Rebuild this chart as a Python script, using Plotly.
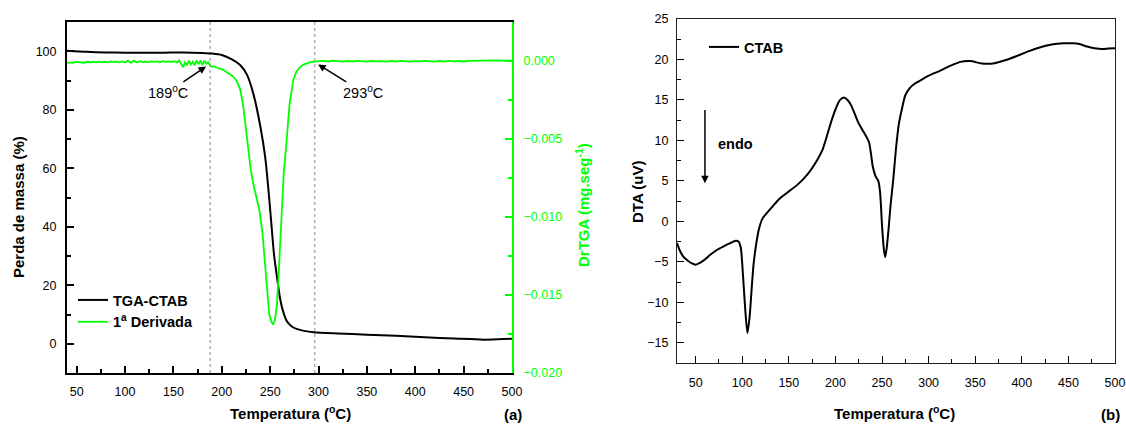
import plotly.graph_objects as go

# ---------------- data ----------------
# TGA (left axis, %)
tga_T = [40, 60, 80, 100, 120, 140, 160, 180, 190, 200, 210, 219, 226, 233, 240, 245,
         248, 251, 254, 257, 260, 263, 267, 272, 278, 285, 295, 320, 350, 380, 410,
         440, 470, 485, 500]
tga_v = [100.2, 99.8, 99.6, 99.5, 99.5, 99.5, 99.6, 99.4, 99.2, 98.7, 97.3, 95.3, 92.0,
         85.0, 74.0, 63.5, 53.5, 42.0, 30.5, 23.0, 16.0, 11.5, 7.9, 6.0, 5.0, 4.4, 3.9,
         3.5, 3.1, 2.7, 2.2, 1.8, 1.4, 1.5, 1.7]

# DrTGA (right axis, mg/s), values in units of 1e-4
dtg_T = [40, 43, 46, 49, 52, 55, 58, 61, 64, 67, 70, 73, 76, 79, 82, 85, 88, 91, 94, 97,
         100, 103, 106, 109, 112, 115, 118, 121, 124, 127, 130, 133, 136, 139, 142, 145,
         148, 151, 154, 156, 158, 160, 162, 164, 166, 168, 170, 172, 174, 176, 178, 180,
         182, 184, 186, 188, 190, 192, 196, 201, 206, 212, 216, 219, 222, 226, 230, 233,
         236, 239, 242, 245, 247, 249, 251, 253, 255, 257, 258.5, 260, 262, 264, 267, 270,
         274, 277, 280, 284, 288, 293, 298, 300, 305, 310, 315, 320, 325, 330, 335, 340,
         345, 350, 355, 360, 365, 370, 375, 380, 385, 390, 395, 400, 405, 410, 415, 420,
         425, 430, 435, 440, 445, 450, 455, 460, 465, 470, 475, 480, 485, 490, 495, 500]
dtg_e4 = [-1.0, -0.9, -1.2, -0.6, -0.8, -0.7, -1.1, -0.5, -0.8, -0.6, -0.9, -0.4, -0.7,
          -0.5, -0.9, -0.3, -0.6, -0.4, -0.8, -0.3, -0.9, 0.3, -1.2, 0.2, -0.8, -0.2, -0.6,
          -0.4, -0.7, -0.2, -0.6, -0.3, -0.8, -0.1, -0.6, -0.2, -0.7, -0.1, -0.9, 0.3, -2.0,
          -4.0, -1.0, -2.5, 0.2, -2.2, -0.5, -2.8, 0.4, -2.0, 0.3, -2.6, 0.2, -1.6, -0.8,
          -3.0, -3.7, -3.5, -4.5, -5.5, -7.5, -10.0, -13.5, -18.0, -28.0, -50.0, -70.0,
          -80.0, -88.0, -96.0, -110.0, -135.0, -151.0, -162.0, -167.0, -169.0, -166.0,
          -156.0, -140.0, -122.0, -92.0, -72.0, -51.0, -28.0, -12.0, -7.0, -4.5, -2.5,
          -1.5, -0.6, -0.3, -0.2, 0.1, -0.3, 0.2, -0.1, -0.4, 0.0, -0.3, 0.1, -0.2, -0.4,
          0.0, -0.3, -0.1, -0.4, 0.0, -0.3, 0.1, -0.2, -0.4, -0.1, -0.3, 0.1, -0.2, -0.4,
          0.0, -0.3, 0.1, -0.2, 0.0, -0.3, 0.1, 0.2, 0.3, 0.4, 0.5, 0.3, 0.4, 0.2, 0.4, 0.3]
dtg_v = [v * 1e-4 for v in dtg_e4]

# DTA (right panel, uV)
dta_T = [30, 33, 37, 42, 46, 50, 55, 60, 66, 72, 80, 87, 93, 96, 98.5, 101, 103, 105.5,
         108, 110, 112, 115, 118, 122, 127, 133, 140, 150, 160, 170, 180, 186, 191, 196,
         201, 205, 209, 213, 217, 221, 225, 229, 233, 236, 238, 240, 243, 246, 248, 250,
         252, 253.5, 255, 257, 259, 262, 265, 268, 271, 275, 280, 285, 291, 300, 312, 323,
         334, 345, 357, 369, 382, 394, 407, 420, 432, 445, 455, 462, 470, 478, 486, 493, 500]
dta_v = [-2.7, -3.6, -4.4, -4.9, -5.2, -5.35, -5.1, -4.7, -4.1, -3.6, -3.1, -2.7, -2.4,
         -2.5, -3.3, -7.0, -10.5, -13.8, -11.7, -8.5, -5.5, -2.8, -0.9, 0.4, 1.1, 1.9, 2.8,
         3.7, 4.6, 5.8, 7.5, 8.8, 10.6, 12.5, 14.1, 15.0, 15.3, 15.0, 14.3, 13.2, 12.1,
         11.3, 10.5, 9.8, 8.5, 6.8, 5.6, 5.0, 3.5, -0.5, -3.5, -4.4, -3.3, -1.0, 1.8, 5.1,
         9.0, 12.0, 13.7, 15.6, 16.5, 17.0, 17.4, 18.0, 18.6, 19.2, 19.7, 19.8, 19.5, 19.5,
         19.9, 20.4, 21.0, 21.5, 21.85, 22.0, 22.0, 21.9, 21.6, 21.4, 21.3, 21.35, 21.4]

onset_T = [188, 296]          # dotted marker lines (left panel)
onset_labels = ["189<sup>o</sup>C", "293<sup>o</sup>C"]

# ---------------- figure ----------------
FONT = "Liberation Sans, Arial, sans-serif"
GREEN = "#00ff00"
W, H = 1126, 426

def px_x(p):
    return p / W

def px_y(p):
    return (H - p) / H

fig = go.Figure()

fig.add_trace(go.Scatter(x=tga_T, y=tga_v, mode="lines", name="<b>TGA-CTAB</b>",
                         line=dict(color="black", width=2, shape="spline", smoothing=0.6),
                         xaxis="x", yaxis="y", legend="legend"))
fig.add_trace(go.Scatter(x=dtg_T, y=dtg_v, mode="lines", name="<b>1<sup>a</sup> Derivada</b>",
                         line=dict(color=GREEN, width=1.8),
                         xaxis="x", yaxis="y2", legend="legend"))
fig.add_trace(go.Scatter(x=dta_T, y=dta_v, mode="lines", name="<b>CTAB</b>",
                         line=dict(color="black", width=2, shape="spline", smoothing=0.6),
                         xaxis="x2", yaxis="y3", legend="legend2"))

tickfont = dict(family=FONT, size=12.5, color="black")

def minor(dt, color="black", w=1.5):
    return dict(ticks="inside", ticklen=4, tickwidth=w, tickcolor=color, dtick=dt, showgrid=False)

fig.update_layout(
    width=W, height=H,
    margin=dict(l=0, r=0, t=0, b=0),
    paper_bgcolor="white", plot_bgcolor="white",
    font=dict(family=FONT, color="black"),
    xaxis=dict(domain=[px_x(67), px_x(512)], range=[40, 500], tick0=50, dtick=50,
               ticks="inside", ticklen=7, tickwidth=1.5, tickcolor="black",
               showline=True, linecolor="black", linewidth=2, mirror=True,
               showgrid=False, zeroline=False, tickfont=tickfont, minor=minor(25),
               anchor="y", automargin=False, ticklabelstandoff=6),
    yaxis=dict(domain=[px_y(373), px_y(22)], range=[-10, 110], tick0=0, dtick=20,
               ticks="inside", ticklen=7, tickwidth=1.5, tickcolor="black",
               showline=True, linecolor="black", linewidth=2,
               showgrid=False, zeroline=False, tickfont=tickfont, minor=minor(10),
               anchor="x", automargin=False, ticklabelstandoff=6),
    yaxis2=dict(overlaying="y", side="right", anchor="x", range=[-0.020, 0.0025],
                tick0=0, dtick=0.005, tickformat=".3f",
                ticks="inside", ticklen=7, tickwidth=1.5, tickcolor=GREEN,
                showline=True, linecolor=GREEN, linewidth=2,
                showgrid=False, zeroline=False,
                tickfont=dict(family=FONT, size=12.5, color=GREEN),
                minor=minor(0.0025, GREEN), automargin=False, ticklabelstandoff=7),
    xaxis2=dict(domain=[px_x(677), px_x(1115)], range=[30, 500], tick0=50, dtick=50,
                ticks="inside", ticklen=7, tickwidth=1.3, tickcolor="black",
                showline=True, linecolor="#222222", linewidth=1.3, mirror=True,
                showgrid=False, zeroline=False, tickfont=tickfont, minor=minor(25, w=1.3),
                anchor="y3", automargin=False, ticklabelstandoff=8),
    yaxis3=dict(domain=[px_y(363), px_y(19)], range=[-17.5, 25], tick0=0, dtick=5,
                ticks="inside", ticklen=7, tickwidth=1.3, tickcolor="black",
                showline=True, linecolor="#222222", linewidth=1.3, mirror=True,
                showgrid=False, zeroline=False, tickfont=tickfont, minor=minor(2.5, w=1.3),
                anchor="x2", automargin=False, ticklabelstandoff=5),
    legend=dict(x=px_x(73), y=px_y(284), xanchor="left", yanchor="top",
                bgcolor="rgba(0,0,0,0)", font=dict(family=FONT, size=14.5, color="black"),
                tracegroupgap=0, itemwidth=30),
    legend2=dict(x=px_x(704), y=px_y(31), xanchor="left", yanchor="top",
                 bgcolor="rgba(0,0,0,0)", font=dict(family=FONT, size=14.5, color="black"),
                 itemwidth=30),
    showlegend=True,
)

# dotted marker lines
for t in onset_T:
    fig.add_shape(type="line", x0=t, x1=t, xref="x", y0=0, y1=1, yref="y domain",
                  line=dict(color="#b0b0b0", width=1.5, dash="dot"), layer="below")

ann = []
# onset annotations
ann.append(dict(x=183.7, y=94.8, xref="x", yref="y", text=onset_labels[0],
                showarrow=True, ax=-38, ay=26, arrowhead=2, arrowsize=1, arrowwidth=1.5,
                arrowcolor="black", font=dict(family=FONT, size=14.5, color="black")))
ann.append(dict(x=299.6, y=95.5, xref="x", yref="y", text=onset_labels[1],
                showarrow=True, ax=45, ay=28, arrowhead=2, arrowsize=1, arrowwidth=1.5,
                arrowcolor="black", font=dict(family=FONT, size=14.5, color="black")))
# endo arrow
ann.append(dict(x=60, y=4.7, xref="x2", yref="y3", ax=60, ay=13.95, axref="x2", ayref="y3",
                text="", showarrow=True, arrowhead=2, arrowsize=1, arrowwidth=1.5,
                arrowcolor="black"))
ann.append(dict(x=93.3, y=9.5, xref="x2", yref="y3", text="<b>endo</b>", showarrow=False,
                font=dict(family=FONT, size=14.5, color="black")))

title_font = dict(family=FONT, size=15, color="black")

def paper_text(xp, yp, text, font, angle=0):
    return dict(x=px_x(xp), y=px_y(yp), xref="paper", yref="paper", text=text,
                textangle=angle, showarrow=False, font=font,
                xanchor="center", yanchor="middle")

ann.append(paper_text(18, 207, "<b>Perda de massa (%)</b>", title_font, -90))
ann.append(paper_text(583, 205, "<b>DrTGA (mg.seg<sup>-1</sup>)</b>",
                      dict(family=FONT, size=15, color=GREEN), -90))
ann.append(paper_text(638, 192, "<b>DTA (uV)</b>", title_font, -90))
ann.append(paper_text(290, 412, "<b>Temperatura (<sup>o</sup>C)</b>", title_font))
ann.append(paper_text(894, 412, "<b>Temperatura (<sup>o</sup>C)</b>", title_font))
ann.append(paper_text(513, 414, "<b>(a)</b>", title_font))
ann.append(paper_text(1110, 414, "<b>(b)</b>", title_font))
fig.update_layout(annotations=ann)

fig.write_html("out.html")
